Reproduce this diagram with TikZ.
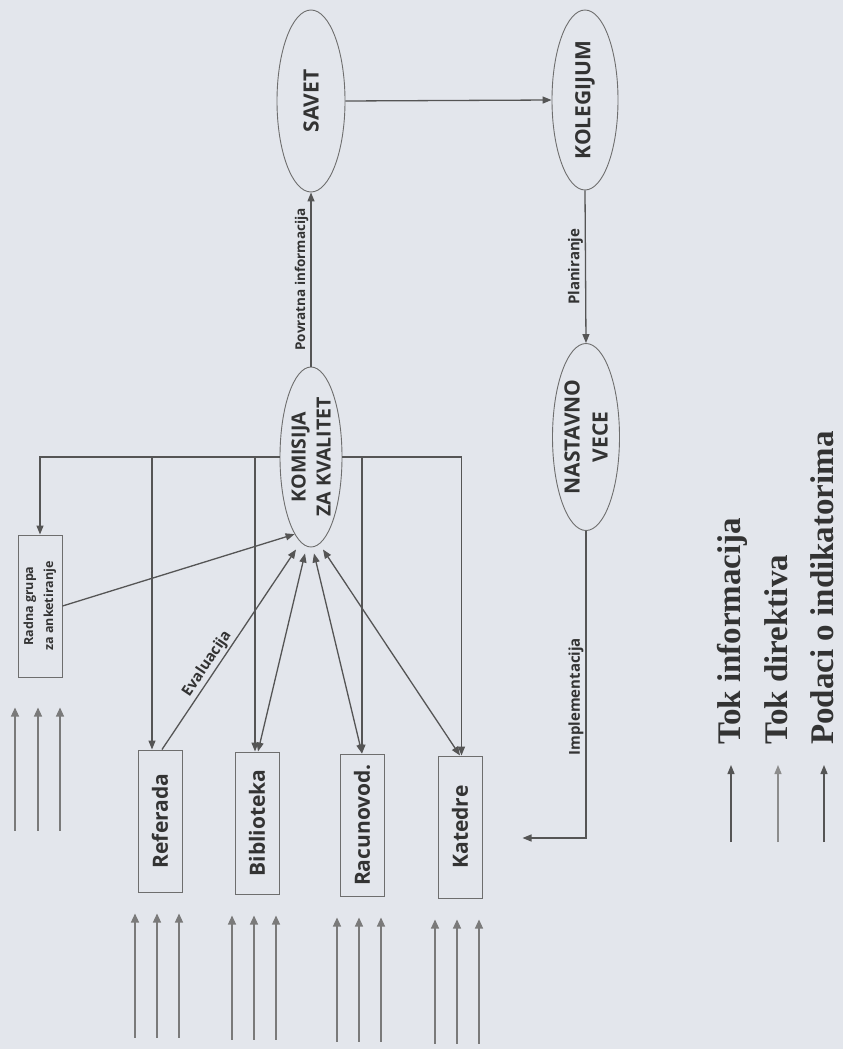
\documentclass[tikz,border=0pt]{standalone}
\usepackage{fontspec}
\setmainfont{Liberation Serif}
\newfontfamily\lblsans{Open Sans}
\usetikzlibrary{shapes.geometric,arrows.meta}
\definecolor{bgc}{HTML}{E3E6EC}
\definecolor{linec}{HTML}{555555}
\definecolor{shapec}{HTML}{6E6E6E}
\definecolor{txtc}{HTML}{333333}
\definecolor{lightc}{HTML}{7A7A7A}
\definecolor{legc}{HTML}{8C8C8C}
\begin{document}
\begin{tikzpicture}[x=1pt,y=-1pt,
  conn/.style={draw=linec,line width=1.3pt},
  arr/.style={conn,-{Triangle[length=9pt,width=7pt]}},
  darr/.style={conn,{Triangle[length=9pt,width=7pt]}-{Triangle[length=9pt,width=7pt]}},
  inarr/.style={draw=lightc,line width=1.1pt,-{Triangle[length=9pt,width=8pt]}},
  ell/.style={ellipse,draw=shapec,line width=0.9pt,inner sep=0pt},
  boxn/.style={rectangle,draw=shapec,line width=1pt,inner sep=0pt,minimum width=44pt,minimum height=142pt},
  bigt/.style={rotate=90,font=\lblsans\bfseries\fontsize{20}{24}\selectfont,text=txtc,align=center,inner sep=0pt},
  boxt/.style={rotate=90,font=\lblsans\bfseries\fontsize{21}{25}\selectfont,text=txtc,inner sep=0pt},
  tinyt/.style={rotate=90,font=\lblsans\bfseries\fontsize{12.5}{20}\selectfont,text=txtc,align=center,inner sep=0pt},
  smallt/.style={rotate=90,font=\lblsans\bfseries\fontsize{15}{18}\selectfont,text=txtc,inner sep=2pt},
  evalt/.style={font=\lblsans\bfseries\fontsize{15}{18}\selectfont,text=txtc,inner sep=2pt},
  legt/.style={rotate=90,font=\bfseries\fontsize{33}{38}\selectfont,text=txtc,inner sep=0pt,anchor=base west}
]
\fill[bgc] (0,0) rectangle (843,1049);
\useasboundingbox (0,0) rectangle (843,1049);

% ellipses
\node[ell,minimum width=68pt,minimum height=182pt] (savet) at (311,101) {};
\node[bigt,font=\lblsans\bfseries\fontsize{21}{25}\selectfont] (savetT) at (savet) {SAVET};
\node[ell,minimum width=66pt,minimum height=180pt] (kolegijum) at (585,100) {};
\node[bigt,font=\lblsans\bfseries\fontsize{21}{25}\selectfont] (kolegijumT) at (kolegijum) {KOLEGIJUM};
\node[ell,minimum width=62pt,minimum height=180pt] (komisija) at (311,457) {};
\node[bigt,font=\lblsans\bfseries\fontsize{19.5}{25}\selectfont] (komisijaT) at (komisija) {KOMISIJA\\ZA KVALITET};
\node[ell,minimum width=67pt,minimum height=187pt] (nastavno) at (586,437) {};
\node[bigt,font=\lblsans\bfseries\fontsize{21}{28}\selectfont] (nastavnoT) at (nastavno) {NASTAVNO\\VECE};

% boxes
\node[boxn] (radna) at (40,606) {};
\node[tinyt] (radnaT) at (radna) {Radna grupa\\za anketiranje};
\node[boxn] (referada) at (160,821) {};
\node[boxt] (referadaT) at (referada) {Referada};
\node[boxn] (biblioteka) at (257,823) {};
\node[boxt] (bibliotekaT) at (biblioteka) {Biblioteka};
\node[boxn] (racunovod) at (362,825) {};
\node[boxt] (racunovodT) at (racunovod) {Racunovod.};
\node[boxn] (katedre) at (460,827) {};
\node[boxt] (katedreT) at (katedre) {Katedre};

% main flow
\draw[arr] (komisija.north) -- node[smallt,midway,anchor=south,font=\lblsans\bfseries\fontsize{13.5}{16}\selectfont] (povr) {Povratna informacija} (savet.south);
\draw[arr] (savet.east) -- (kolegijum.west);
\draw[arr] (kolegijum.south) -- node[smallt,midway,anchor=south] (plan) {Planiranje} (nastavno.south |- nastavno.north);
\draw[arr] (nastavno.south) |- node[smallt,pos=0.27,anchor=south] (impl) {Implementacija} ([xshift=40pt,yshift=-11pt]katedre.east);

% bus from komisija to the units
\draw[arr] (komisija.west) -| (radna.north);
\draw[arr] (komisija.west) -| ([xshift=-8pt]referada.north);
\draw[arr] (komisija.west) -| ([xshift=-2pt]biblioteka.north);
\draw[arr] (komisija.east) -| (racunovod.north);
\draw[arr] (komisija.east) -| ([xshift=1.5pt]katedre.north);

% feedback to komisija
\draw[arr] (radna.east) -- (komisija.258);
\draw[arr] ([xshift=2pt]referada.north) -- node[evalt,pos=0.4,sloped,above] (eval) {Evaluacija} ([xshift=-15pt,yshift=-2pt]komisija.south);
\draw[darr] ([xshift=1pt]biblioteka.north) -- ([xshift=-6pt,yshift=-6pt]komisija.south);
\draw[darr] (racunovod.north) -- ([xshift=3pt,yshift=-6pt]komisija.south);
\draw[darr] (katedre.north) -- ([xshift=12pt,yshift=-2pt]komisija.south);

% input arrows (indicator data)
\foreach \b in {referada,biblioteka,racunovod,katedre}{
  \foreach \dx in {-25,-3,19}{
    \draw[inarr] ([xshift=\dx pt,yshift=-145pt]\b.south) -- ([xshift=\dx pt,yshift=-21pt]\b.south);
  }
}
\foreach \dx in {-25,-2,20}{
  \draw[inarr] ([xshift=\dx pt,yshift=-153pt]radna.south) -- ([xshift=\dx pt,yshift=-30pt]radna.south);
}

% legend
\node[legt] (leg1) at (740,745) {Tok informacija};
\node[legt] (leg2) at (787,745) {Tok direktiva};
\node[legt] (leg3) at (833,745) {Podaci o indikatorima};
\coordinate (l1a) at (731,842); \coordinate (l1b) at (731,765);
\coordinate (l2a) at (778,842); \coordinate (l2b) at (778,765);
\coordinate (l3a) at (824,842); \coordinate (l3b) at (824,765);
\draw[arr] (l1a) -- (l1b);
\draw[draw=legc,line width=1.3pt,-{Triangle[length=9pt,width=7pt]}] (l2a) -- (l2b);
\draw[arr] (l3a) -- (l3b);
\end{tikzpicture}
\end{document}
